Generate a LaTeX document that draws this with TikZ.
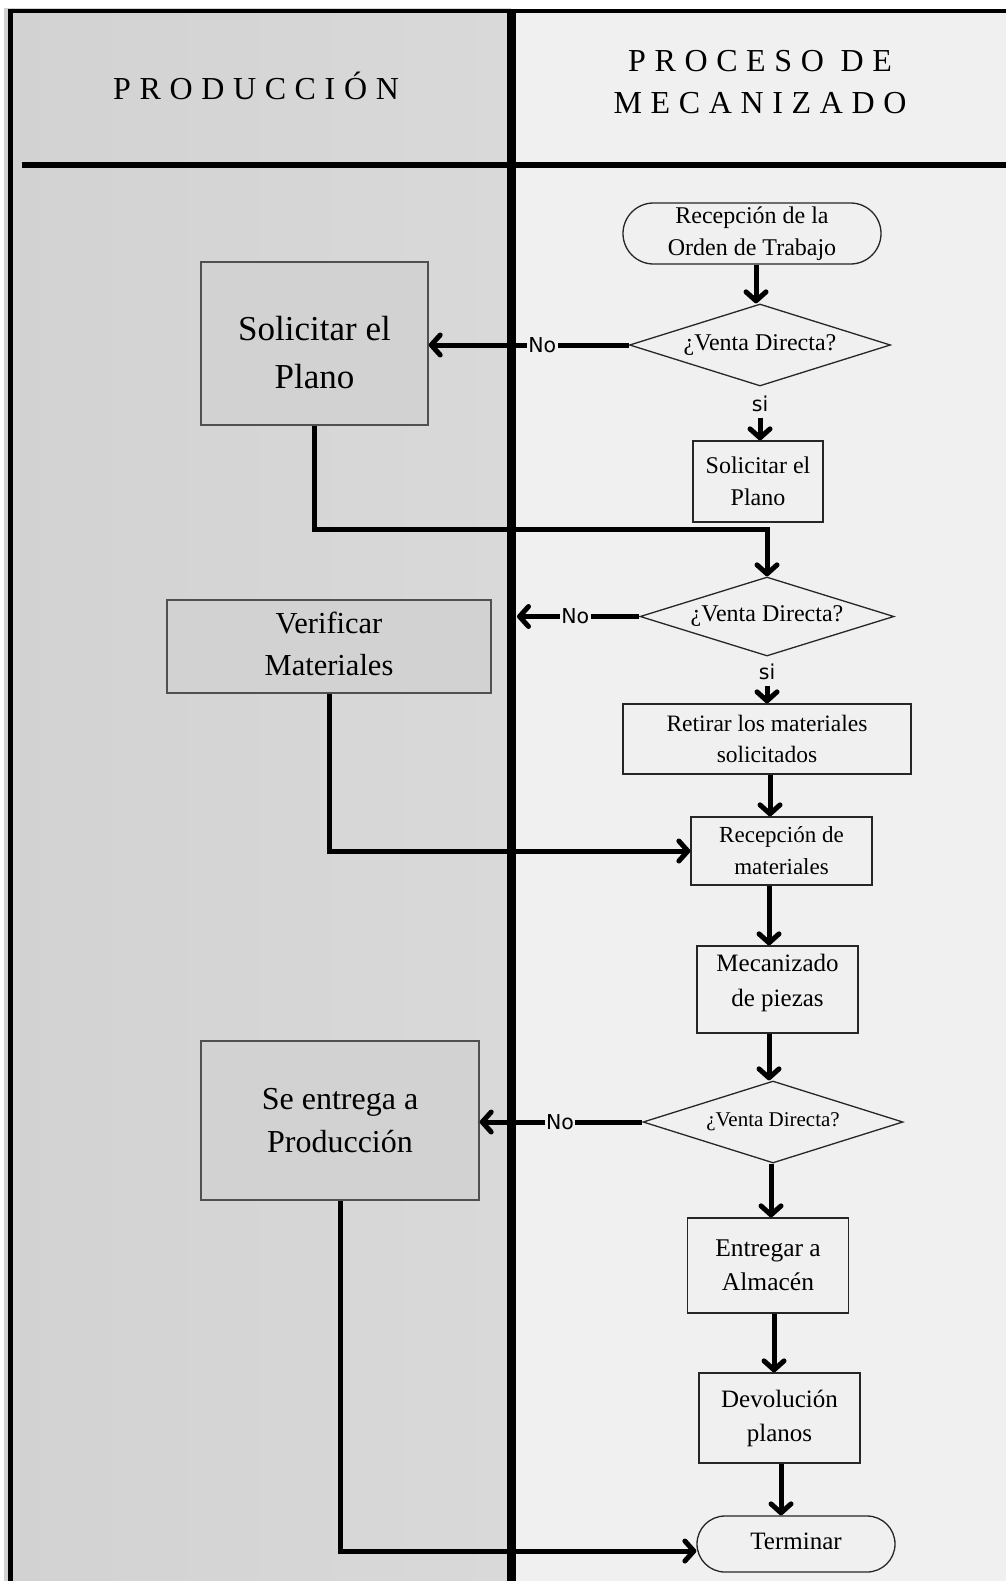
\documentclass[tikz,border=0pt]{standalone}
\usepackage{fontspec}
\setmainfont{Liberation Serif}
\newfontfamily\sansf{DejaVu Sans}
\newfontfamily\hdrf[LetterSpace=27]{Liberation Serif}
\usetikzlibrary{arrows.meta,shapes.geometric,shapes.misc,calc}
\definecolor{laneL}{HTML}{D2D2D2}
\definecolor{laneLb}{HTML}{D9D9D9}
\definecolor{laneR}{HTML}{F0F0F0}
\definecolor{boxL}{HTML}{505050}
\begin{document}
\begin{tikzpicture}[x=1pt,y=-1pt,
  fz/.style 2 args={font=\fontsize{#1}{#2}\selectfont},
  lbox/.style={rectangle, draw=boxL, line width=1.4pt, fill=laneL, align=center, inner sep=0pt},
  rbox/.style={rectangle, draw=black!85, line width=1.3pt, fill=laneR, align=center, inner sep=0pt},
  termbox/.style={rounded rectangle, draw=black!85, line width=1.3pt, fill=laneR, align=center, inner sep=0pt},
  dec/.style={diamond, draw=black!85, line width=1.3pt, fill=laneR, align=center, inner sep=0pt, aspect=3.2},
  conn/.style={line width=5pt},
  arr/.style={conn, -{Straight Barb[length=9pt,width=20pt,round]}},
  lbl/.style={font=\sansf\fontsize{20.5}{20.5}\selectfont, fill=laneR, inner sep=1.5pt},
  silbl/.style={lbl, inner ysep=6pt},
  hdr/.style={font=\hdrf\fontsize{32}{42.5}\selectfont, align=center, inner sep=0pt},
]
\useasboundingbox (0,0) rectangle (1006,1581);
\fill[white] (0,0) rectangle (1006,1581);
\shade[left color=laneL, right color=laneLb] (4,9) rectangle (511,1581);
\fill[laneR] (511,9) rectangle (1006,1581);
% frame and lane lines
\draw[line width=4.5pt] (10.5,9) -- (10.5,1581);
\draw[line width=4.5pt] (8,11) -- (1006,11);
\draw[line width=6pt] (22,165) -- (1006,165);
\draw[line width=9pt] (511,9) -- (511,1581);
% headers
\node[hdr] (hp) at (256,86) {PRODUCCIÓN};
\node[hdr] (hm) at (760,82) {PROCESO DE\\MECANIZADO};
% right lane
\node[termbox, fz={24}{32}, minimum width=258pt, minimum height=61pt] (rt1) at (752,233.5) {Recepción de la\\Orden de Trabajo};
\node[dec, fz={24}{32}, minimum width=261pt, minimum height=82pt] (d1) at (760,345) {¿Venta Directa?};
\node[rbox, fz={24}{32}, minimum width=130pt, minimum height=81pt] (rs) at (758,481.5) {Solicitar el\\Plano};
\node[dec, fz={24}{32}, minimum width=254pt, minimum height=79pt] (d2) at (767,616.5) {¿Venta Directa?};
\node[rbox, fz={23.5}{31.5}, minimum width=288pt, minimum height=70pt] (rr) at (767,739) {Retirar los materiales\\solicitados};
\node[rbox, fz={23}{32}, minimum width=181pt, minimum height=68pt] (rm) at (781.5,851) {Recepción de\\materiales};
\node[rbox, minimum width=161pt, minimum height=87pt, label={[fz={25}{35},align=center,yshift=7pt]center:Mecanizado\\de piezas}] (mec) at (777.5,989.5) {};
\node[dec, fz={21}{28}, minimum width=260pt, minimum height=82pt] (d3) at (773,1122) {¿Venta Directa?};
\node[rbox, fz={25.5}{33.5}, minimum width=161pt, minimum height=95pt] (ent) at (768,1265.5) {Entregar a\\Almacén};
\node[rbox, fz={25}{34}, minimum width=161pt, minimum height=90pt] (dev) at (779.5,1418) {Devolución\\planos};
\node[termbox, minimum width=198pt, minimum height=56pt, label={[fz={25}{30},yshift=3pt]center:Terminar}] (fin) at (796,1544) {};
% left lane
\node[lbox, minimum width=227pt, minimum height=163pt, label={[fz={35}{48.5},align=center,yshift=-9pt]center:Solicitar el\\Plano}] (ls) at (314.5,343.5) {};
\node[lbox, minimum width=324pt, minimum height=93pt, label={[fz={30.5}{42},align=center,yshift=3pt]center:Verificar\\Materiales}] (lv) at (329,646.5) {};
\node[lbox, fz={32}{43}, minimum width=278pt, minimum height=159pt] (le) at (340,1120.5) {Se entrega a\\Producción};
% connector columns
\coordinate (c1) at (756,0);
\coordinate (cx2) at (770,0);
\coordinate (cx3) at (769,0);
\coordinate (cx4) at (771,0);
\coordinate (cx5) at (774,0);
\coordinate (cx6) at (781,0);
\coordinate (dv2) at (517,0);
% connectors
\draw[arr] (rt1.south -| c1) -- (d1.north -| c1);
\draw[arr] (d1.west) -- node[lbl, pos=0.433] {No} (d1.west -| ls.east);
\draw[arr, shorten <=12pt] (d1.south) -- node[silbl, pos=0.32] {si} (d1.south |- rs.north);
\draw[arr] (ls.south) |- ($(rs.south)+(0,6.5)$) -| (d2.north);
\draw[arr] (d2.west) -- node[lbl, pos=0.524] {No} (d2.west -| dv2);
\draw[arr, shorten <=12pt] (d2.south) -- node[silbl, pos=0.32] {si} (d2.south |- rr.north);
\draw[arr] (rr.south -| cx2) -- (rm.north -| cx2);
\draw[arr] (lv.south) |- (rm.west);
\draw[arr] (rm.south -| cx3) -- (mec.north -| cx3);
\draw[arr] (mec.south -| cx3) -- (d3.north -| cx3);
\draw[arr] (d3.west) -- node[lbl, pos=0.506] {No} (d3.west -| le.east);
\draw[arr] (d3.south -| cx4) -- (ent.north -| cx4);
\draw[arr] (ent.south -| cx5) -- (dev.north -| cx5);
\draw[arr] (dev.south -| cx6) -- (fin.north -| cx6);
\draw[arr] (le.south) |- ($(fin.west)+(0,7)$);
\end{tikzpicture}
\end{document}
